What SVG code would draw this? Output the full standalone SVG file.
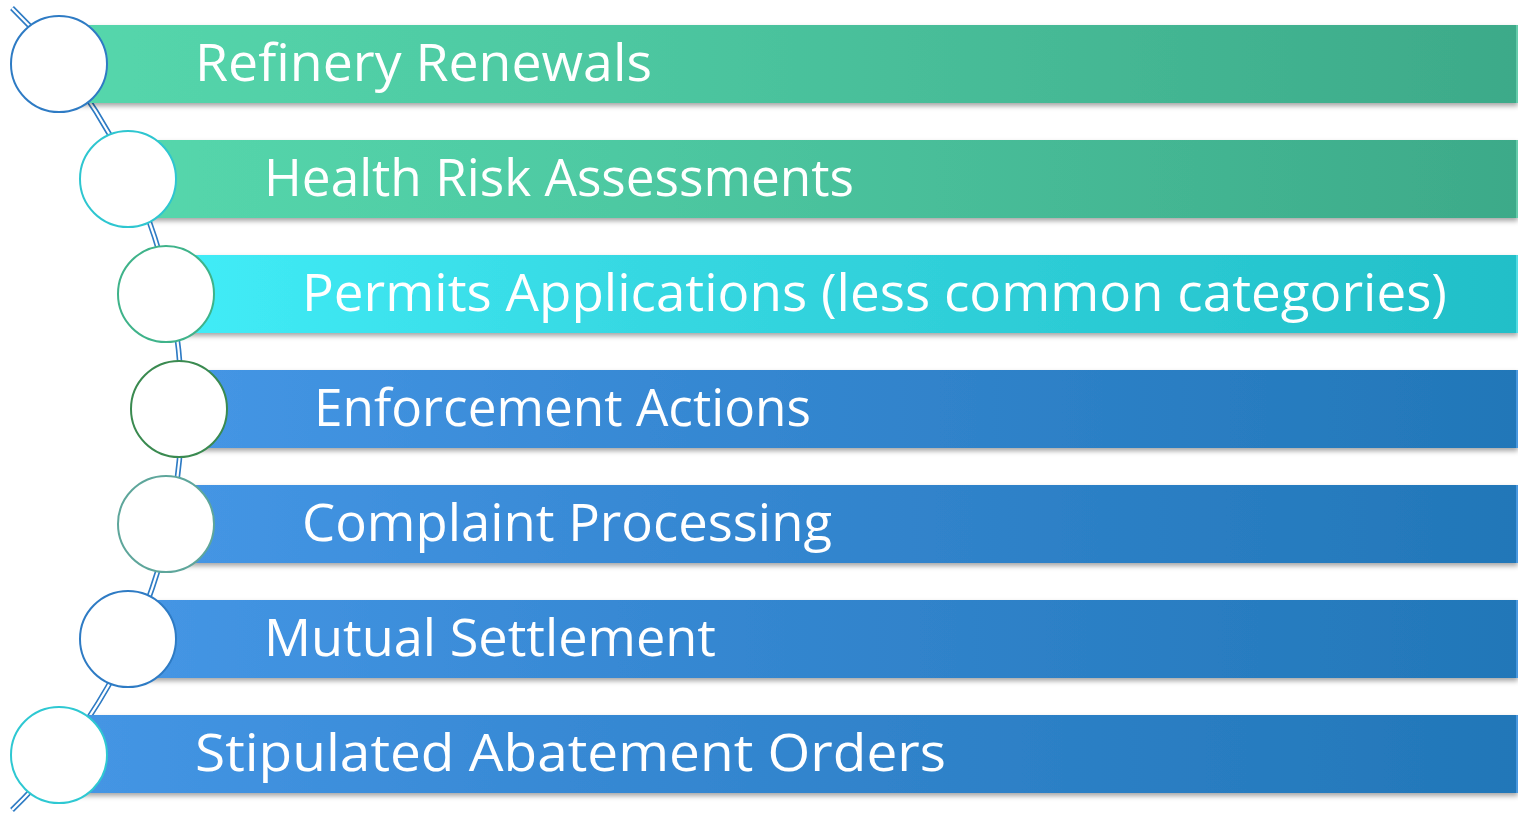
<svg xmlns="http://www.w3.org/2000/svg" width="1518" height="813" viewBox="0 0 1518 813">
<defs>
<linearGradient id="gGreen" x1="0" y1="0" x2="1" y2="0">
<stop offset="0" stop-color="#55d7ac"/><stop offset="0.35" stop-color="#4ec9a2"/><stop offset="1" stop-color="#3daa89"/>
</linearGradient>
<linearGradient id="gCyan" x1="0" y1="0" x2="1" y2="0">
<stop offset="0" stop-color="#41edf8"/><stop offset="0.35" stop-color="#36d8e2"/><stop offset="1" stop-color="#22bfc8"/>
</linearGradient>
<linearGradient id="gBlue" x1="0" y1="0" x2="1" y2="0">
<stop offset="0" stop-color="#4596e5"/><stop offset="0.35" stop-color="#3789d4"/><stop offset="1" stop-color="#2277b8"/>
</linearGradient>
<filter id="sh" x="-5%" y="-20%" width="110%" height="150%">
<feDropShadow dx="0" dy="3" stdDeviation="2.5" flood-color="#000" flood-opacity="0.35"/>
</filter>
<style>
.lbl{font-family:"Open Sans","Noto Sans",sans-serif;font-size:51px;fill:#ffffff;font-variant-ligatures:none;}
.node circle{fill:#ffffff;stroke-width:2;}
</style>
</defs>
<rect width="1518" height="813" fill="#ffffff"/>
<g id="connectors">
<path d="M 12 8 A 558.8 558.8 0 0 1 12 810" fill="none" stroke="#2e7bc4" stroke-width="5.5"/>
<path d="M 12 8 A 558.8 558.8 0 0 1 12 810" fill="none" stroke="#ffffff" stroke-width="2.2"/>
</g>
<g id="node1" class="node">
<rect x="59" y="25" width="1459" height="78" fill="url(#gGreen)" filter="url(#sh)"/>
<rect x="1516" y="25" width="2" height="78" fill="#7fe3c2" fill-opacity="0.6"/>
<circle cx="59" cy="64" r="48" stroke="#2e7bc4"/>
<text class="lbl" x="195" y="81" textLength="457" lengthAdjust="spacingAndGlyphs">Refinery Renewals</text>
</g>
<g id="node2" class="node">
<rect x="128" y="140" width="1390" height="78" fill="url(#gGreen)" filter="url(#sh)"/>
<rect x="1516" y="140" width="2" height="78" fill="#7fe3c2" fill-opacity="0.6"/>
<circle cx="128" cy="179" r="48" stroke="#2ec6d0"/>
<text class="lbl" x="264" y="196" textLength="590" lengthAdjust="spacingAndGlyphs">Health Risk Assessments</text>
</g>
<g id="node3" class="node">
<rect x="166" y="255" width="1352" height="78" fill="url(#gCyan)" filter="url(#sh)"/>
<rect x="1516" y="255" width="2" height="78" fill="#6ff0f6" fill-opacity="0.6"/>
<circle cx="166" cy="294" r="48" stroke="#3fb38a"/>
<text class="lbl" x="302" y="311" textLength="1145" lengthAdjust="spacingAndGlyphs">Permits Applications (less common categories)</text>
</g>
<g id="node4" class="node">
<rect x="179" y="370" width="1339" height="78" fill="url(#gBlue)" filter="url(#sh)"/>
<rect x="1516" y="370" width="2" height="78" fill="#5aa6f0" fill-opacity="0.7"/>
<circle cx="179" cy="409" r="48" stroke="#3a8a50"/>
<text class="lbl" x="314" y="426" textLength="497" lengthAdjust="spacingAndGlyphs">Enforcement Actions</text>
</g>
<g id="node5" class="node">
<rect x="166" y="485" width="1352" height="78" fill="url(#gBlue)" filter="url(#sh)"/>
<rect x="1516" y="485" width="2" height="78" fill="#5aa6f0" fill-opacity="0.7"/>
<circle cx="166" cy="524" r="48" stroke="#5ea69b"/>
<text class="lbl" x="302" y="541" textLength="530" lengthAdjust="spacingAndGlyphs">Complaint Processing</text>
</g>
<g id="node6" class="node">
<rect x="128" y="600" width="1390" height="78" fill="url(#gBlue)" filter="url(#sh)"/>
<rect x="1516" y="600" width="2" height="78" fill="#5aa6f0" fill-opacity="0.7"/>
<circle cx="128" cy="639" r="48" stroke="#2e7bc4"/>
<text class="lbl" x="264" y="656" textLength="452" lengthAdjust="spacingAndGlyphs">Mutual Settlement</text>
</g>
<g id="node7" class="node">
<rect x="59" y="715" width="1459" height="78" fill="url(#gBlue)" filter="url(#sh)"/>
<rect x="1516" y="715" width="2" height="78" fill="#5aa6f0" fill-opacity="0.7"/>
<circle cx="59" cy="755" r="48" stroke="#2ec8d2"/>
<text class="lbl" x="195" y="771" textLength="751" lengthAdjust="spacingAndGlyphs">Stipulated Abatement Orders</text>
</g>
</svg>
